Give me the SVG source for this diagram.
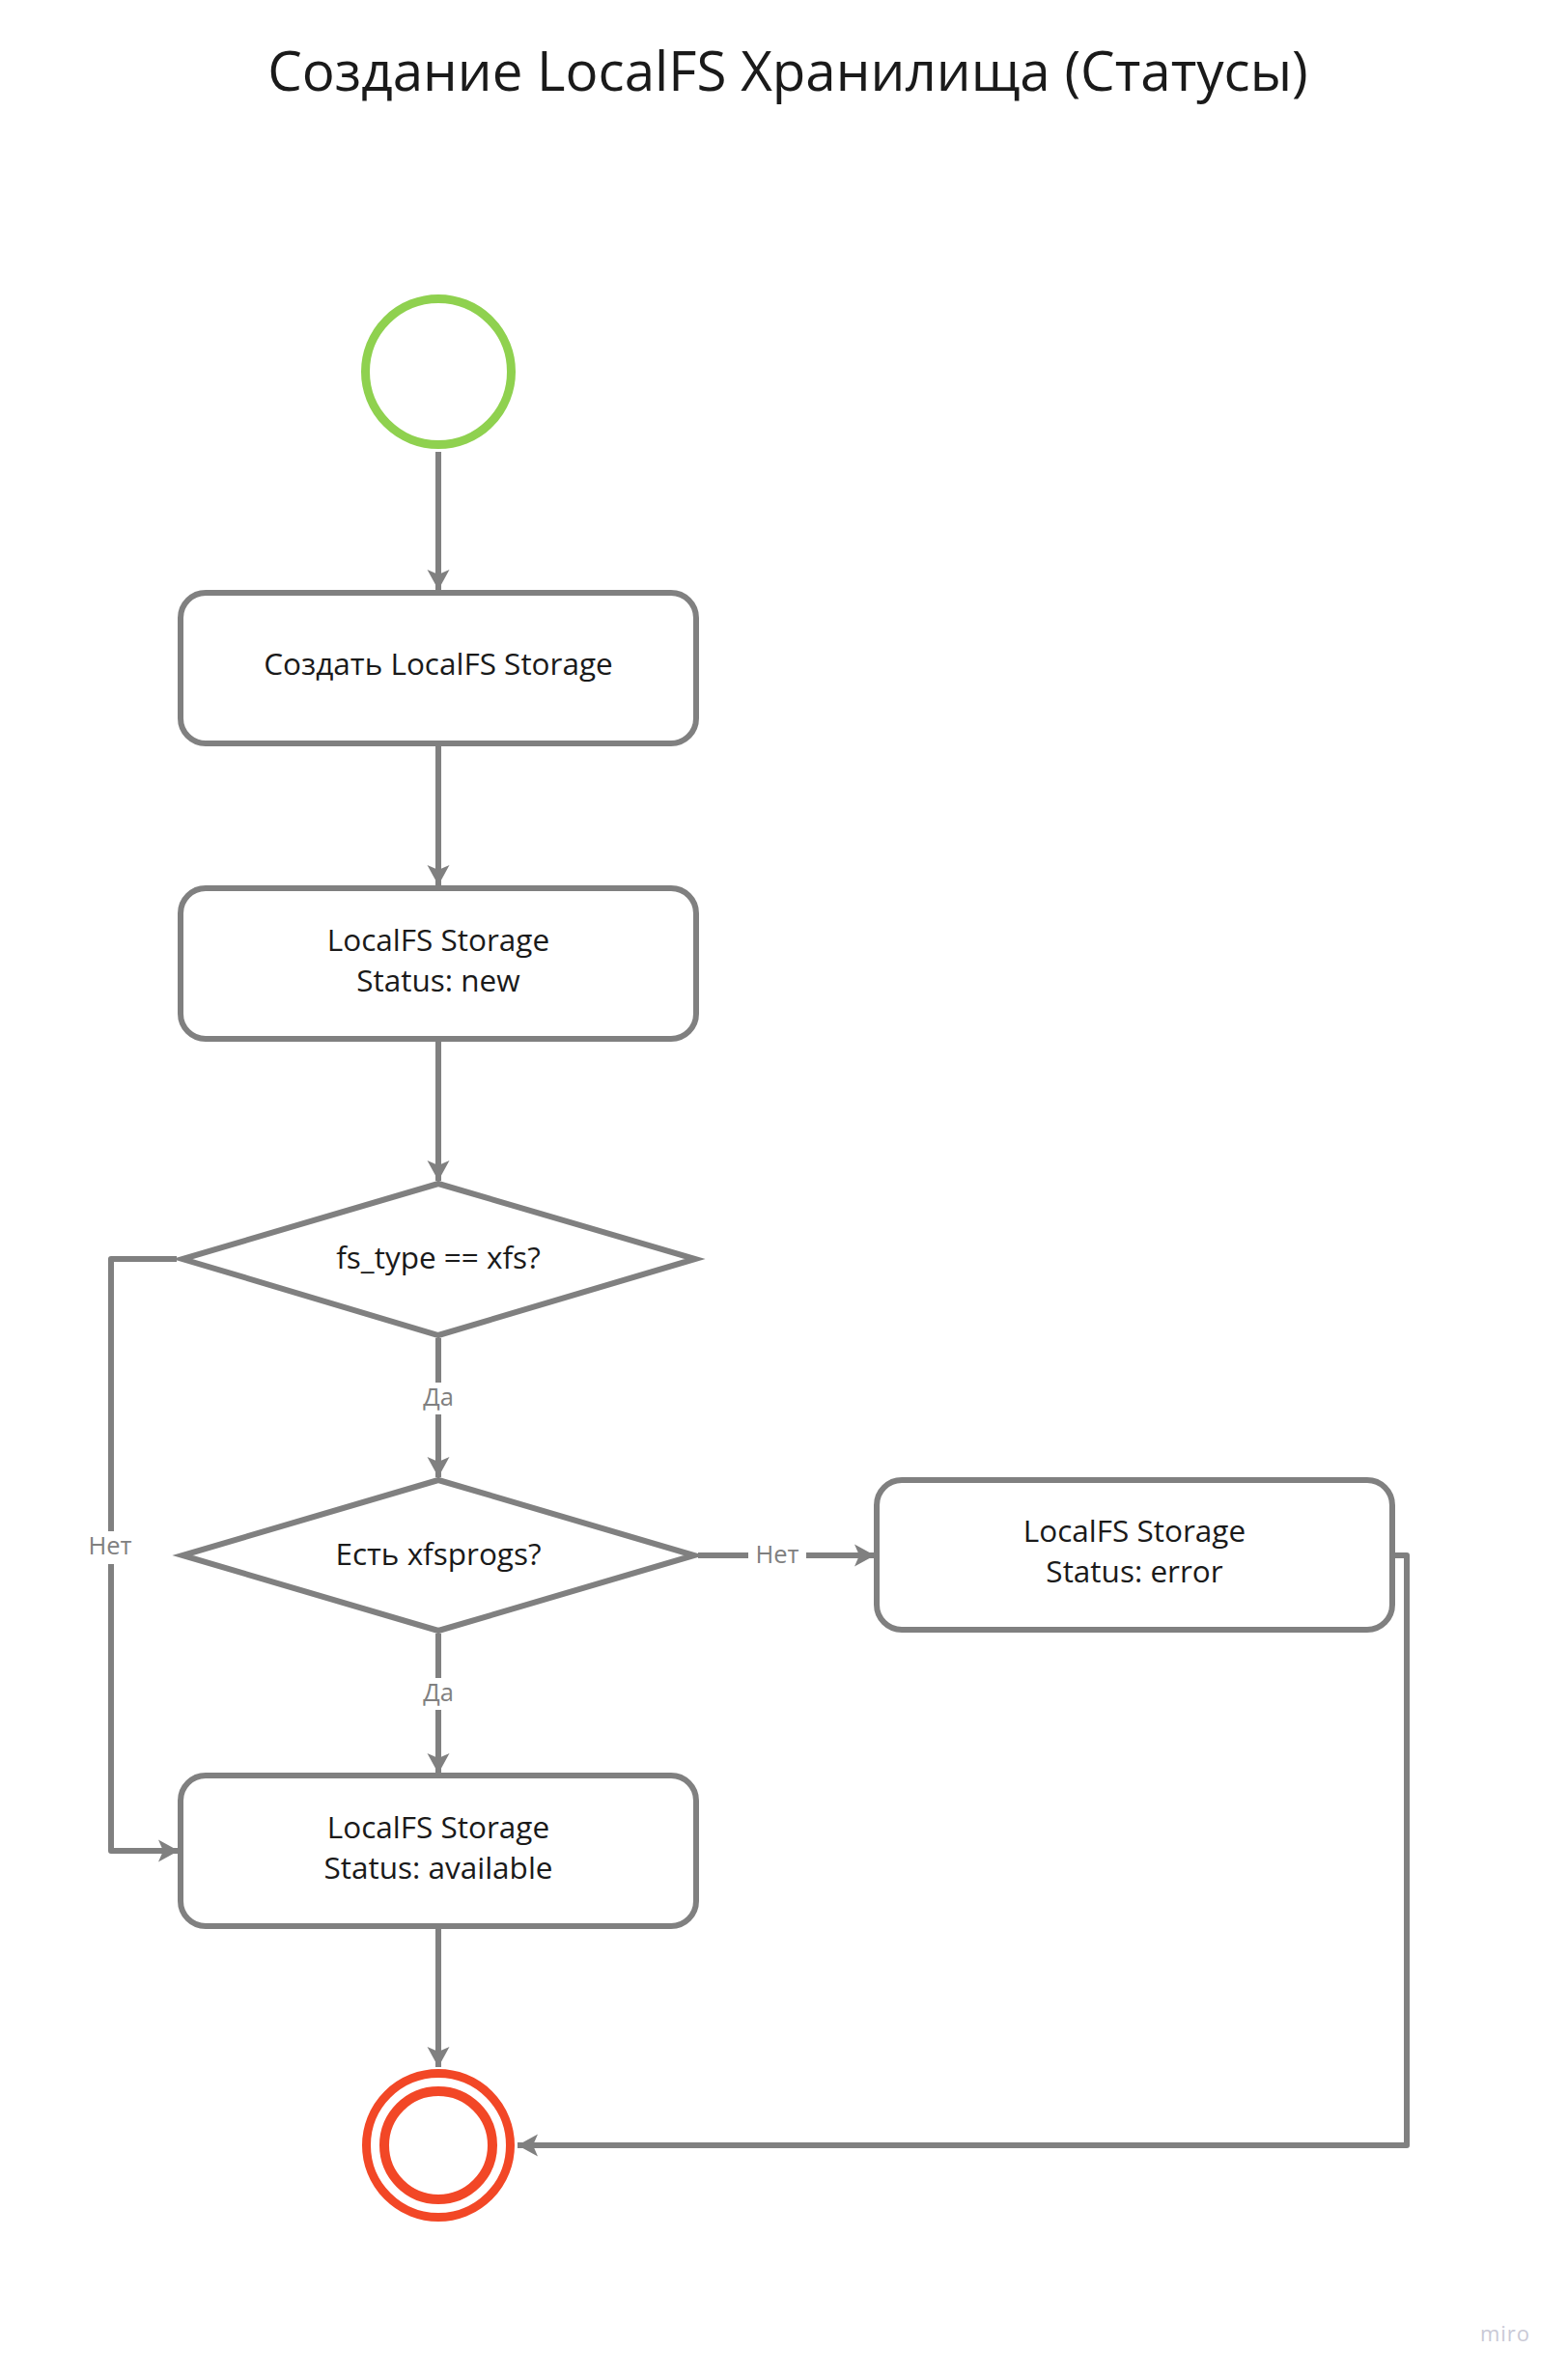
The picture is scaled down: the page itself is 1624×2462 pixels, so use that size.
<svg xmlns="http://www.w3.org/2000/svg" width="1624" height="2462" viewBox="0 0 1624 2462">
  <style>
    .bg { fill: #ffffff; }
    .title { font-family: "Open Sans", "Liberation Sans", sans-serif; font-size: 56.5px; fill: #1a1a1a; text-anchor: middle; }
    .node { fill: #ffffff; stroke: #808080; stroke-width: 6; }
    .txt { font-family: "Open Sans", "Liberation Sans", sans-serif; font-size: 31.5px; fill: #1a1a1a; text-anchor: middle; }
    .edge { fill: none; stroke: #808080; stroke-width: 6; stroke-linejoin: round; }
    .lbl { font-family: "Open Sans", "Liberation Sans", sans-serif; font-size: 25.5px; fill: #808080; text-anchor: middle; }
    .lblbg { fill: #ffffff; }
    .start { fill: #ffffff; stroke: #8fd14f; stroke-width: 9; }
    .end { fill: #ffffff; stroke: #f24726; }
    .brand { font-family: "Open Sans", "Liberation Sans", sans-serif; font-size: 22px; fill: #c9c9d6; text-anchor: middle; letter-spacing: 1px; }
  </style>
  <defs>
    <!-- notched arrowhead shared by all connectors -->
    <marker id="arrow" viewBox="0 0 24 24" refX="22" refY="12" markerWidth="24" markerHeight="24" markerUnits="userSpaceOnUse" orient="auto">
      <path d="M22,12 L1,0.5 L6,12 L1,23.5 Z" fill="#808080"/>
    </marker>
  </defs>

  <rect class="bg" x="0" y="0" width="1624" height="2462"/>

  <text class="title" x="816" y="94">Создание LocalFS Хранилища (Статусы)</text>

  <!-- connectors -->
  <g id="connectors">
    <path class="edge" d="M454,468 L454,611" marker-end="url(#arrow)"/>
    <path class="edge" d="M454,773 L454,917" marker-end="url(#arrow)"/>
    <path class="edge" d="M454,1079 L454,1223" marker-end="url(#arrow)"/>
    <g id="e-xfs-yes">
      <path class="edge" d="M454,1386 L454,1530" marker-end="url(#arrow)"/>
      <rect class="lblbg" x="432" y="1432" width="44" height="33"/>
      <text class="lbl" x="454" y="1456">Да</text>
    </g>
    <g id="e-xfs-no">
      <path class="edge" d="M183,1304 L115,1304 L115,1917 L185,1917" marker-end="url(#arrow)"/>
      <rect class="lblbg" x="90" y="1586" width="50" height="34"/>
      <text class="lbl" x="114" y="1610">Нет</text>
    </g>
    <g id="e-progs-no">
      <path class="edge" d="M723,1611 L906,1611" marker-end="url(#arrow)"/>
      <rect class="lblbg" x="775" y="1594" width="60" height="34"/>
      <text class="lbl" x="805" y="1619">Нет</text>
    </g>
    <g id="e-progs-yes">
      <path class="edge" d="M454,1692 L454,1837" marker-end="url(#arrow)"/>
      <rect class="lblbg" x="432" y="1738" width="44" height="33"/>
      <text class="lbl" x="454" y="1762">Да</text>
    </g>
    <path class="edge" d="M454,1998 L454,2141" marker-end="url(#arrow)"/>
    <path class="edge" d="M1445,1611 L1457,1611 L1457,2222 L536,2222" marker-end="url(#arrow)"/>
  </g>

  <!-- nodes -->
  <g id="start">
    <circle class="start" cx="454" cy="385" r="75.5"/>
  </g>

  <g id="create">
    <rect class="node" x="187" y="614" width="534" height="156" rx="26"/>
    <text class="txt" x="454" y="699">Создать LocalFS Storage</text>
  </g>

  <g id="status-new">
    <rect class="node" x="187" y="920" width="534" height="156" rx="26"/>
    <text class="txt" x="454" y="985">LocalFS Storage</text>
    <text class="txt" x="454" y="1027">Status: new</text>
  </g>

  <g id="check-fstype">
    <polygon class="node" points="454,1226 720,1304 454,1383 189,1304"/>
    <text class="txt" x="454" y="1314">fs_type == xfs?</text>
  </g>

  <g id="check-xfsprogs">
    <polygon class="node" points="454,1533 719,1611 454,1689 189,1611"/>
    <text class="txt" x="454" y="1621">Есть xfsprogs?</text>
  </g>

  <g id="status-error">
    <rect class="node" x="908" y="1533" width="534" height="155" rx="26"/>
    <text class="txt" x="1175" y="1597">LocalFS Storage</text>
    <text class="txt" x="1175" y="1639">Status: error</text>
  </g>

  <g id="status-available">
    <rect class="node" x="187" y="1839" width="534" height="156" rx="26"/>
    <text class="txt" x="454" y="1904">LocalFS Storage</text>
    <text class="txt" x="454" y="1946">Status: available</text>
  </g>

  <g id="end">
    <circle class="end" cx="454" cy="2222" r="74.5" stroke-width="9"/>
    <circle class="end" cx="454" cy="2222" r="56" stroke-width="10"/>
  </g>

  <text class="brand" x="1559" y="2425">miro</text>
</svg>
